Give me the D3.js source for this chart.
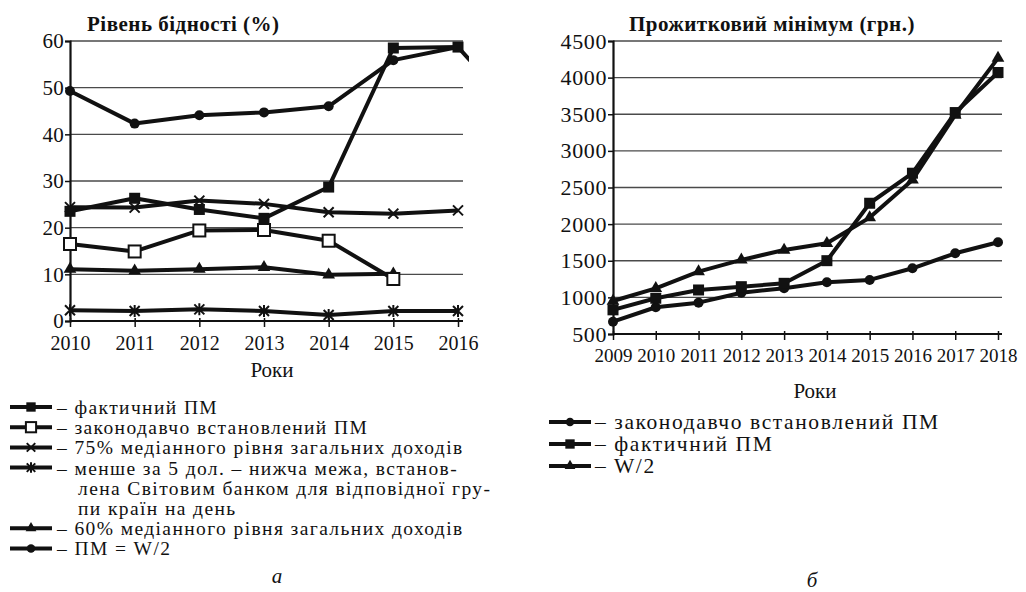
<!DOCTYPE html>
<html lang="uk">
<head>
<meta charset="utf-8">
<title>Рівень бідності та прожитковий мінімум</title>
<script src="https://d3js.org/d3.v7.min.js"></script>
<style>
  body { margin: 0; background: #fff; }
  svg text { font-family: "Liberation Serif", "Times New Roman", Tinos, "DejaVu Serif", serif !important; fill: #111; }
</style>
</head>
<body>
<script>
// ---- data, chart a (Рівень бідності, %) ----
const yearsA = [2010, 2011, 2012, 2013, 2014, 2015, 2016, 2017]
const factA  = [23.5, 26.3, 23.9, 22.0, 28.7, 58.5, 58.7]
const lawA   = [16.5, 14.9, 19.4, 19.5, 17.2, 9.0]
const p75A   = [24.4, 24.3, 25.8, 25.1, 23.3, 23.0, 23.7]
const usd5A  = [2.3, 2.15, 2.5, 2.15, 1.3, 2.15, 2.15]
const p60A   = [11.1, 10.75, 11.1, 11.5, 9.9, 10.1]
const w2A    = [49.3, 42.3, 44.1, 44.7, 46.0, 55.9, 58.7, 43.4]  // last point runs off the frame
const yTicksA = [0, 10, 20, 30, 40, 50, 60]

// ---- data, chart б (Прожитковий мінімум, грн.) ----
const yearsB = [2009, 2010, 2011, 2012, 2013, 2014, 2015, 2016, 2017, 2018]
const lawB   = [668, 865, 928, 1064, 1124, 1206, 1238, 1397, 1602, 1753]
const factB  = [830, 988, 1101, 1146, 1192, 1501, 2285, 2695, 3523, 4070]
const w2B    = [950, 1124, 1351, 1511, 1647, 1739, 2089, 2604, 3490, 4266]
const yTicksB = [500, 1000, 1500, 2000, 2500, 3000, 3500, 4000, 4500]

const legendA = [
  {m: "sq",    lines: ["– фактичний ПМ"]},
  {m: "osq",   lines: ["– законодавчо встановлений ПМ"]},
  {m: "x",     lines: ["– 75% медіанного рівня загальних доходів"]},
  {m: "star",  lines: ["– менше за 5 дол. – нижча межа, встанов-", "лена Світовим банком для відповідної гру-", "пи країн на день"]},
  {m: "tri",   lines: ["– 60% медіанного рівня загальних доходів"]},
  {m: "dot",   lines: ["– ПМ = W/2"]}
]
const legendB = [
  {m: "dot", lines: ["– законодавчо встановлений ПМ"]},
  {m: "sq",  lines: ["– фактичний ПМ"]},
  {m: "tri", lines: ["– W/2"]}
]

const W = 1026, H = 592
const svg = d3.select("body").append("svg").attr("width", W).attr("height", H)

// marker drawing
function marker(g, type, s) {
  s = s || 1
  if (type === "sq") {
    g.append("rect").attr("x", -5.5 * s).attr("y", -5.5 * s).attr("width", 11 * s).attr("height", 11 * s).attr("fill", "#111")
  } else if (type === "osq") {
    g.append("rect").attr("x", -6 * s).attr("y", -6 * s).attr("width", 12 * s).attr("height", 12 * s)
      .attr("fill", "#fff").attr("stroke", "#111").attr("stroke-width", 2)
  } else if (type === "dot") {
    g.append("circle").attr("r", 5 * s).attr("fill", "#111")
  } else if (type === "tri") {
    g.append("path").attr("d", d3.symbol(d3.symbolTriangle, 70 * s * s)()).attr("fill", "#111")
  } else if (type === "x") {
    const a = 5 * s
    g.append("path").attr("d", `M${-a},${-a}L${a},${a}M${-a},${a}L${a},${-a}`)
      .attr("stroke", "#111").attr("stroke-width", 2).attr("fill", "none")
  } else if (type === "star") {
    const a = 5 * s
    g.append("path").attr("d", `M${-a},${-a}L${a},${a}M${-a},${a}L${a},${-a}M0,${-a - 1}L0,${a + 1}`)
      .attr("stroke", "#111").attr("stroke-width", 2).attr("fill", "none")
  }
}

function drawChart(cfg) {
  const g = svg.append("g")
  const x = d3.scaleLinear().domain(cfg.xDomain).range(cfg.xRange)
  const y = d3.scaleLinear().domain(cfg.yDomain).range(cfg.yRange)

  // grid
  g.append("g").selectAll("line").data(cfg.yTicks.slice(1)).join("line")
    .attr("x1", cfg.xRange[0]).attr("x2", cfg.gridEnd)
    .attr("y1", d => y(d)).attr("y2", d => y(d))
    .attr("stroke", "#4a4a4a").attr("stroke-width", 1.3)

  // axes
  const yAxis = g.append("g").attr("transform", `translate(${cfg.xRange[0]},0)`)
    .call(d3.axisLeft(y).tickValues(cfg.yTicks).tickFormat(d3.format("d")).tickSize(5).tickPadding(1))
  yAxis.select(".domain").attr("stroke", "#111").attr("stroke-width", 2.2)
  yAxis.selectAll(".tick line").attr("stroke", "#111").attr("stroke-width", 1.5)
  yAxis.selectAll("text").attr("font-size", cfg.yFont).attr("fill", "#111").attr("letter-spacing", cfg.yLs)

  const xAxis = g.append("g").attr("transform", `translate(0,${cfg.yRange[0]})`)
    .call(d3.axisBottom(x).tickValues(cfg.xTicks).tickFormat(d3.format("d")).tickSize(6).tickSizeOuter(0).tickPadding(9))
  xAxis.select(".domain").attr("stroke", "#111").attr("stroke-width", 2.2)
    .attr("d", `M${cfg.xRange[0]},0H${cfg.gridEnd}`)
  xAxis.selectAll(".tick line").attr("stroke", "#111").attr("stroke-width", 1.5).attr("y1", -3)
  xAxis.selectAll("text").attr("font-size", cfg.xFont).attr("fill", "#111").attr("letter-spacing", cfg.xLs)

  // title & axis label
  g.append("text").attr("x", cfg.titleX).attr("y", 31).attr("font-size", 21).attr("font-weight", "bold")
    .attr("letter-spacing", 0.5).text(cfg.title)
  g.append("text").attr("x", cfg.rokiX).attr("y", cfg.rokiY).attr("font-size", 21).attr("text-anchor", "middle")
    .text("Роки")

  // clip for lines
  const clipId = "clip" + cfg.id
  svg.append("clipPath").attr("id", clipId).append("rect")
    .attr("x", 0).attr("y", 0).attr("width", cfg.clipRight).attr("height", H)

  const line = d3.line().x(d => x(d[0])).y(d => y(d[1]))
  cfg.series.forEach(s => {
    const pts = s.values.map((v, i) => [cfg.years[i], v])
    const sg = g.append("g").attr("clip-path", `url(#${clipId})`)
    sg.append("path").attr("d", line(pts)).attr("fill", "none")
      .attr("stroke", "#111").attr("stroke-width", 4).attr("stroke-linejoin", "round")
    pts.forEach(p => {
      const mg = sg.append("g").attr("transform", `translate(${x(p[0])},${y(p[1])})`)
      marker(mg, s.m)
    })
  })
}

drawChart({
  id: "a", title: "Рівень бідності (%)", titleX: 87,
  years: yearsA, xDomain: [2010, 2016], xRange: [70, 458], gridEnd: 463, clipRight: 469,
  yDomain: [0, 60], yRange: [321, 41], yTicks: yTicksA, xTicks: yearsA.slice(0, 7),
  yFont: 21, yLs: 0.3, xFont: 20, xLs: 0,
  rokiX: 272, rokiY: 377,
  series: [
    {m: "tri", values: p60A},
    {m: "star", values: usd5A},
    {m: "x", values: p75A},
    {m: "sq", values: factA},
    {m: "osq", values: lawA},
    {m: "dot", values: w2A}
  ]
})

drawChart({
  id: "b", title: "Прожитковий мінімум (грн.)", titleX: 629,
  years: yearsB, xDomain: [2009, 2018], xRange: [613, 998], gridEnd: 1002, clipRight: W,
  yDomain: [500, 4500], yRange: [334, 41], yTicks: yTicksB, xTicks: yearsB,
  yFont: 22, yLs: 0.6, xFont: 19, xLs: 0,
  rokiX: 815, rokiY: 398,
  series: [
    {m: "tri", values: w2B},
    {m: "dot", values: lawB},
    {m: "sq", values: factB}
  ]
})

// legends
function drawLegend(items, x0, yStart, step, textX, contX, fs, ls) {
  const lg = svg.append("g")
  let row = 0
  items.forEach(it => {
    const cy = yStart + row * step
    lg.append("line").attr("x1", x0).attr("x2", x0 + 42).attr("y1", cy).attr("y2", cy)
      .attr("stroke", "#111").attr("stroke-width", 4)
    marker(lg.append("g").attr("transform", `translate(${x0 + 21},${cy})`), it.m, 0.85)
    it.lines.forEach((t, k) => {
      lg.append("text").attr("x", k === 0 ? textX : contX).attr("y", cy + 7 + k * step)
        .attr("font-size", fs).attr("letter-spacing", ls).text(t)
    })
    row += it.lines.length
  })
}
drawLegend(legendA, 10, 407, 20.2, 57, 78, 19.5, 1.4)
drawLegend(legendB, 549, 422, 22, 595, 595, 21.5, 1.6)

svg.append("text").attr("x", 277).attr("y", 583).attr("font-size", 21).attr("font-style", "italic")
  .attr("text-anchor", "middle").text("а")
svg.append("text").attr("x", 812).attr("y", 587).attr("font-size", 21).attr("font-style", "italic")
  .attr("text-anchor", "middle").text("б")
</script>
</body>
</html>
